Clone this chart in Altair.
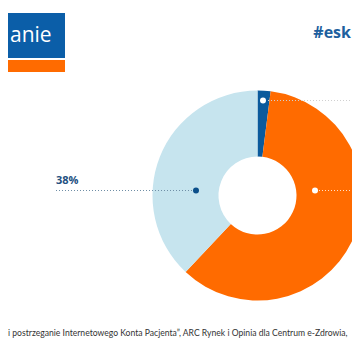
import altair as alt
import pandas as pd

# ---- data ----
categories = ["kat. 1", "kat. 2", "kat. 3"]
values = [2, 60, 38]
slice_colors = ["#0b5a9c", "#ff6b00", "#c6e4ee"]
label_text = ["38%"]
title_tag = ["#esk"]
logo_text = ["anie"]
footer_text = ["i postrzeganie Internetowego Konta Pacjenta\u201d, ARC Rynek i Opinia dla Centrum e-Zdrowia,"]

# ---- layout helpers (page pixel coordinates) ----
xs = alt.Scale(domain=[8, 352], range=[0, 344])
ys = alt.Scale(domain=[8, 352], range=[0, 344])
CX, CY = 257.5, 195.5

pie_df = pd.DataFrame({"cat": categories, "value": values, "order": [0, 1, 2]})

arc = alt.Chart(pie_df).mark_arc(radius=105, radius2=39).encode(
    theta=alt.Theta("value:Q", stack=True),
    order=alt.Order("order:Q"),
    color=alt.Color("cat:N", scale=alt.Scale(domain=categories, range=slice_colors), legend=None),
    x=alt.value(CX - 8),
    y=alt.value(CY - 8),
)

logo_df = pd.DataFrame({
    "x": [0, 0], "x2": [65, 65], "y": [13, 60], "y2": [58, 72],
    "c": ["#0b5ea8", "#ff6b00"],
})
logo = alt.Chart(logo_df).mark_rect().encode(
    x=alt.X("x:Q", scale=xs, axis=None),
    x2="x2:Q",
    y=alt.Y("y:Q", scale=ys, axis=None),
    y2="y2:Q",
    color=alt.Color("c:N", scale=None),
)

logo_t = alt.Chart(pd.DataFrame({"t": logo_text, "x": [10], "y": [42]})).mark_text(
    align="left", baseline="alphabetic", font="Open Sans", fontSize=21, color="white"
).encode(x=alt.X("x:Q", scale=xs), y=alt.Y("y:Q", scale=ys), text="t:N")

tag = alt.Chart(pd.DataFrame({"t": title_tag, "x": [351], "y": [33]})).mark_text(
    align="right", baseline="middle", font="Open Sans", fontSize=16, fontWeight="bold", color="#1d5f9e"
).encode(x=alt.X("x:Q", scale=xs), y=alt.Y("y:Q", scale=ys), text="t:N")

lbl = alt.Chart(pd.DataFrame({"t": label_text, "x": [56], "y": [181]})).mark_text(
    align="left", baseline="middle", font="Open Sans", fontSize=11, fontWeight="bold", color="#24507f"
).encode(x=alt.X("x:Q", scale=xs), y=alt.Y("y:Q", scale=ys), text="t:N")

foot = alt.Chart(pd.DataFrame({"t": footer_text, "x": [8], "y": [333]})).mark_text(
    align="left", baseline="middle", font="Lato", fontSize=8.6, color="#333333"
).encode(x=alt.X("x:Q", scale=xs), y=alt.Y("y:Q", scale=ys), text="t:N")

lines_df = pd.DataFrame({
    "x": [56, 268, 319], "x2": [196, 360, 360], "y": [190.5, 100.5, 190.5],
    "c": ["#6f8ea6", "#d0d0d0", "#ffe2cc"],
})
lines = alt.Chart(lines_df).mark_rule(strokeDash=[1, 2], strokeWidth=1).encode(
    x=alt.X("x:Q", scale=xs), x2="x2:Q", y=alt.Y("y:Q", scale=ys),
    color=alt.Color("c:N", scale=None),
)

dots_df = pd.DataFrame({
    "x": [196, 263, 315], "y": [190.5, 100.5, 190.5],
    "c": ["#0b4f8a", "white", "white"],
})
dots = alt.Chart(dots_df).mark_circle(size=36, opacity=1).encode(
    x=alt.X("x:Q", scale=xs), y=alt.Y("y:Q", scale=ys),
    color=alt.Color("c:N", scale=None),
)

chart = alt.layer(logo, logo_t, tag, arc, lines, dots, lbl, foot).properties(
    width=344, height=344, padding=0,
    autosize=alt.AutoSizeParams(type="none"),
).configure_view(stroke=None)

chart.save("out.html", embed_options={"renderer": "svg", "actions": False})
